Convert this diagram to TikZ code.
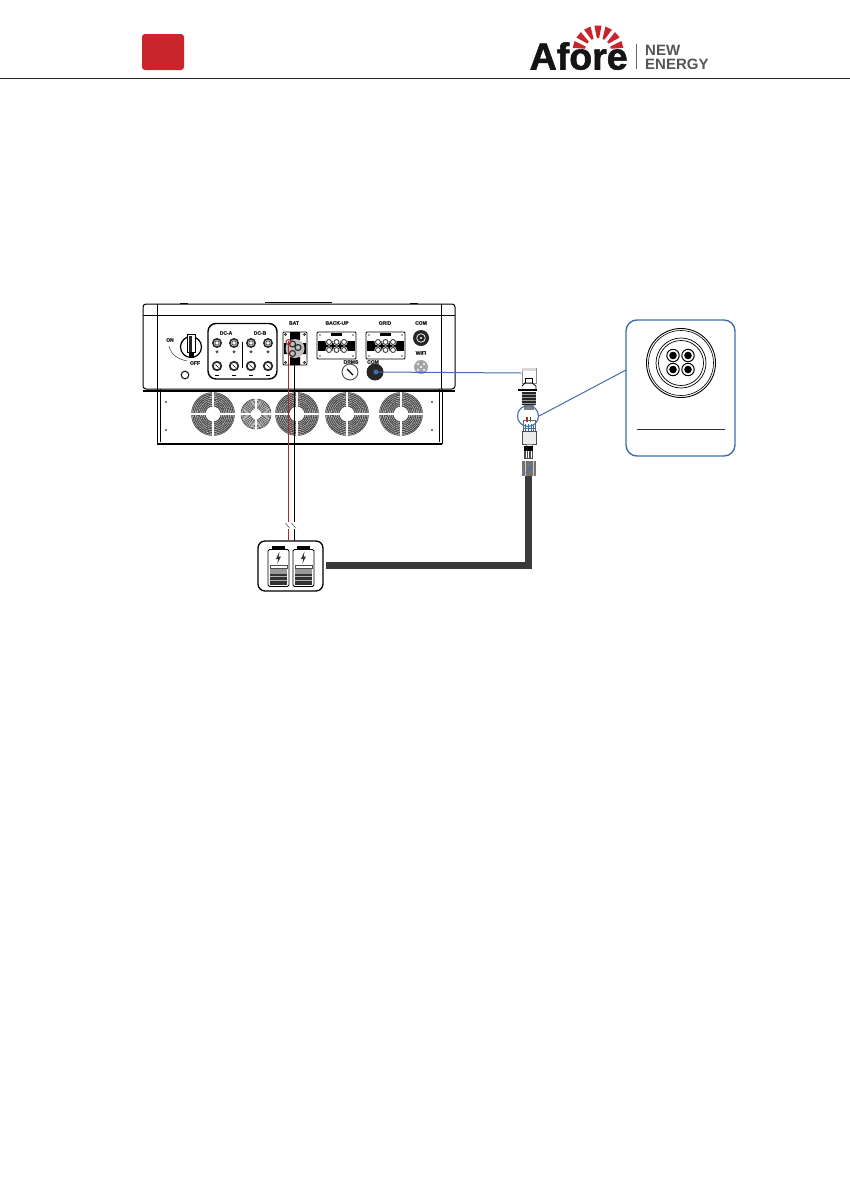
\documentclass[tikz,border=0pt]{standalone}
\usepackage{fontspec}
\setmainfont[BoldFeatures={FakeBold=1.6}]{Liberation Sans}
\newfontfamily\plainbold{Liberation Sans}
\definecolor{afred}{HTML}{C9252C}
\definecolor{afblue}{HTML}{3F70AE}
\definecolor{afgray}{HTML}{555555}
\definecolor{wirered}{HTML}{B5232F}
\definecolor{cabledark}{HTML}{3A3A3A}
\newcommand{\afan}[4]{%
  \foreach \k in {0.38,0.46,0.54,0.62,0.70,0.78,0.86,0.94}{
    \draw[line width=#4,black!72,dash pattern=on 1.1pt off 0.4pt] (#1,#2) circle ({#3*\k});
  }
  \draw[black!72,line width=0.7pt] (#1,#2) circle (#3);
  \draw[white,line width=1.2pt] (#1-#3-1,#2) -- (#1+#3+1,#2) (#1,#2-#3-1) -- (#1,#2+#3+1);
  \fill[white] (#1,#2) circle ({#3*0.33});
}
\newcommand{\agland}[3]{%
  \fill[#3] (#1,#2) circle (5);
  \fill[white] (#1,#2) circle (3.2);
  \draw[line width=0.8pt,black!70] (#1,#2) circle (2.2);
}
\newcommand{\alow}[2]{%
  \fill[black!85] (#1,#2) circle (5.2);
  \fill[white] (#1,#2) circle (3.2);
  \draw[line width=0.7pt] (#1-1.5,#2-1.5) -- (#1+1.5,#2+1.5);
}
\newcommand{\aplug}[2]{% left x, top y
  \draw[line width=0.9pt,rounded corners=1pt] (#1,#2) rectangle (#1+39,#2+27);
  \fill[black] (#1+1,#2+9) rectangle (#1+38,#2+19);
  \fill[black] (#1+14,#2+1) rectangle (#1+25,#2+4);
  \foreach \dx/\dy in {12/10,19.5/10,27/10,12/18,19.5/18,27/18}{
    \fill[white] (#1+\dx,#2+\dy) circle (3.6);
    \draw[line width=0.9pt,black!75] (#1+\dx,#2+\dy) circle (2.5);
  }
  \foreach \dx/\dy in {3/3,36/3,3/24,36/24}{\fill[black!70] (#1+\dx,#2+\dy) circle (0.9);}
}
\newcommand{\acell}[2]{% left x, top y
  \fill[black] (#1+3.5,#2-4) rectangle (#1+17,#2);
  \draw[line width=0.8pt,rounded corners=1.5pt] (#1,#2) rectangle (#1+21,#2+37);
  \fill[black!80] (#1+2,#2+24) rectangle (#1+19,#2+35);
  \foreach \yy in {27,30.5}{\draw[white!70!black,line width=0.4pt] (#1+2,#2+\yy) -- (#1+19,#2+\yy);}
  \draw[line width=0.7pt,black!70] (#1+2,#2+15.5) rectangle (#1+19,#2+19);
  \fill[black!40] (#1+2,#2+19.5) rectangle (#1+19,#2+24);
  \fill[black!80] (#1+11.5,#2+2) -- (#1+8,#2+9.5) -- (#1+10.3,#2+9.5) -- (#1+9.2,#2+14.5) -- (#1+13,#2+7) -- (#1+10.7,#2+7) -- cycle;
}
\newcommand{\apin}[2]{%
  \draw[line width=1pt] (#1,#2) circle (6.2);
  \fill[black] (#1,#2) circle (3.8);
}
\tikzset{
  x=1pt,y=-1pt,
  tiny label/.style={font=\bfseries\fontsize{5}{5}\selectfont,inner sep=0pt,text=black!85},
  outline/.style={draw=black,line width=1pt},
  blue link/.style={draw=afblue,line width=1pt},
  wire/.style={line width=1pt},
}
\begin{document}
\begin{tikzpicture}
\useasboundingbox[fill=white] (0,0) rectangle (850,1191);

% header
\fill[afred,rounded corners=3pt] (142,34) rectangle (184,70);
\draw[black!85,line width=0.9pt] (0,78) -- (850,78);
\foreach \a in {15,40,65,90,115,140,165}{
  \fill[afred] ({598+13*cos(\a-5)},{51-13*sin(\a-5)}) -- ({598+25.5*cos(\a-8)},{51-25.5*sin(\a-8)}) -- ({598+25.5*cos(\a+8)},{51-25.5*sin(\a+8)}) -- ({598+13*cos(\a+5)},{51-13*sin(\a+5)}) -- cycle;
}
\node[anchor=base west,inner sep=0pt,font=\bfseries\fontsize{37.5}{38}\selectfont,text=black!92] (afore) at (529.5,69.5) {Afore};
\draw[black!60,line width=0.7pt] (636,44) -- (636,69);
\node[anchor=base west,inner sep=0pt,font=\plainbold\bfseries\fontsize{15}{15}\selectfont,text=afgray] (neww) at (645,55.5) {NEW};
\node[anchor=base west,inner sep=0pt,font=\plainbold\bfseries\fontsize{15}{15}\selectfont,text=afgray] (energy) at (645,69) {ENERGY};

% inverter lower part
\draw[outline] (157,389) -- (157,444) (442,389) -- (442,444);
\draw[black,line width=0.6pt] (160,389) -- (160,442) (439,389) -- (439,442);
\draw[black,line width=1.5pt] (157,444) -- (442,444);
\afan{213}{414}{21.5}{1.35pt}
\afan{256}{414}{15}{0.65pt}
\afan{297}{414}{21.5}{1.35pt}
\afan{347}{414}{21.5}{1.35pt}
\afan{401}{414}{21.5}{1.35pt}
\foreach \sx/\sy in {166/402,166/430,432/402,432/430}{\fill[black!70] (\sx,\sy) circle (1.1);}

% inverter upper part
\draw[outline,rounded corners=3pt] (143,304) -- (143,389) -- (455,389) -- (455,304) -- cycle;
\draw[black,line width=0.8pt] (143,315) -- (455,315);
\draw[black,line width=0.8pt] (157,304) -- (157,389) (441,304) -- (441,389);
\draw[black,line width=1.2pt] (143,391) -- (455,391);
\draw[black,line width=1.5pt] (265,302.5) -- (332,302.5);
\draw[black,line width=1.5pt] (180,303.5) -- (188,303.5) (410,303.5) -- (418,303.5);

% switch
\draw[line width=1.2pt] (191,347) circle (10.5);
\draw[line width=0.8pt,fill=white] (187,334) rectangle (195,352);
\fill[black!85] (189,336) rectangle (192,352);
\fill[black] (188.5,352) rectangle (193.5,358);
\node[tiny label] (onlbl) at (170,340) {ON};
\node[tiny label] (offlbl) at (195,363) {OFF};
\draw[line width=0.5pt,black!80] (169,346) .. controls (171,355) and (178,359) .. (187,361);
\draw[line width=1pt] (185,375) circle (3.8);

% DC box
\draw[line width=1.4pt,rounded corners=8pt] (208,323.5) rectangle (277,379);
\node[tiny label] (dca) at (226,333) {DC-A};
\node[tiny label] (dcb) at (260,333) {DC-B};
\foreach \gx in {217,234,251,268}{
  \agland{\gx}{343}{black!85}
  \alow{\gx}{366}
  \node[tiny label] at (\gx,352) {+};
  \draw[line width=0.7pt] (\gx-2,375.5) -- (\gx+2,375.5);
}
\draw[line width=0.7pt] (242,342) -- (242,368);

% BAT
\node[tiny label] (batlbl) at (294,323) {BAT};
\node[draw,line width=0.9pt,minimum width=24pt,minimum height=33pt,inner sep=0pt,rounded corners=1pt] (batport) at (295,348.5) {};
\fill[black] (290,332) rectangle (300,340) (290,357) rectangle (300,365) (284,343) rectangle (306,354);
\fill[black!25] (295,348.5) circle (9.5);
\foreach \dx/\dy in {-2.5/-4.5,3/-1,-2.5/5}{\draw[line width=1.1pt,black!85] (295+\dx,348.5+\dy) circle (3);}
\foreach \sx/\sy in {285.5/334.5,304.5/334.5,285.5/362.5,304.5/362.5}{\draw[line width=0.4pt] (\sx,\sy) circle (1);}

% BACK-UP / GRID
\node[tiny label] (backlbl) at (337,323) {BACK-UP};
\aplug{317}{332}
\node[tiny label] (gridlbl) at (385,323) {GRID};
\aplug{366}{332}

% COM / WIFI / others
\node[tiny label] (comlbl) at (421,323) {COM};
\fill[black!85] (421,338) circle (8);
\draw[white,line width=0.7pt] (421,338) circle (4.3);
\fill[white] (421,338) circle (1.2);
\node[tiny label] (wifilbl) at (421,353) {WIFI};
\fill[black!35] (421,367) circle (7);
\foreach \dx/\dy in {-3/-3,3/-3,-3/3,3/3,0/0}{\fill[white] (421+\dx,367+\dy) circle (1.2);}
\node[tiny label] (drmslbl) at (351,362) {DRMS};
\draw[line width=0.9pt,black!70] (350,372) circle (8);
\draw[line width=1.4pt] (347,369) -- (353,375);
\node[tiny label] (com2lbl) at (373,362) {COM};
\node[fill=black!85,circle,minimum size=17pt,inner sep=0pt] (comport) at (375,372) {};
\fill[afblue] (376,372) circle (2.5);

% connector
\coordinate (plugin) at (521,373);
\draw[blue link] (comport.center) -- (plugin);
\draw[line width=0.4pt,black!45] (522,368) rectangle (536,383);
\fill[black!15] (522,368) rectangle (536,371);
\draw[line width=0.8pt] (525,383) -- (525,378) -- (532,378) -- (532,383);
\fill[black] (518,388.5) rectangle (537,390.5);
\draw[line width=0.8pt] (522,386) -- (525,383) -- (532,383) -- (536,386) -- (536,389);
\fill[black!85] (522,392) rectangle (536,405);
\foreach \yy in {394,397,400,403}{\draw[white!60!black,line width=0.4pt] (522,\yy) -- (536,\yy);}
\fill[black!50] (524,405) rectangle (534,410);
\fill[wirered] (526,417) rectangle (527.5,422);
\fill[green!45!black] (529.5,417) rectangle (531,422);
\draw[black!60,line width=0.5pt] (523,420) rectangle (535,431);
\foreach \xx in {525,528,531,533.5}{\draw[afblue,line width=0.9pt] (\xx,424) -- (\xx,431);}
\draw[afblue,line width=0.9pt] (523,428) -- (535,428);
\draw[line width=0.5pt,black!70,fill=black!8] (522,431) rectangle (536,444);
\draw[black!50,line width=0.5pt] (526,444) rectangle (532,449);
\fill[black] (524,446) rectangle (533,451);
\fill[black!70] (524,451) rectangle (533,459);
\foreach \xx in {526,528.5,531}{\draw[white,line width=0.5pt] (\xx,451) -- (\xx,458);}
\fill[black!55] (522,461) rectangle (536,476);
\draw[black!20,line width=0.6pt] (525,461) -- (525,476) (533,461) -- (533,476);
\draw[afblue,line width=1.2pt] (526,473) -- (532,466);
\node[circle,draw=afblue,line width=1.1pt,minimum size=21pt,inner sep=0pt] (zoomcirc) at (528,416) {};

% battery pack
\node[draw,line width=1.3pt,rounded corners=7pt,minimum width=65pt,minimum height=50pt,inner sep=0pt,outer sep=0pt] (pack) at (290.5,566) {};
\acell{268}{549.5}
\acell{293}{549.5}

% cable
\coordinate (cabletop) at (528,476);
\coordinate (cablecorner) at (528,565.5);
\draw[cabledark,line width=7pt,line join=miter] (cabletop) -- (cablecorner) -- (326,565.5);

% DC wires
\coordinate (redtop) at (288.5,341);
\coordinate (blacktop) at (294.5,364);
\coordinate (redbreaka) at (288.5,522);
\coordinate (redbreakb) at (288.5,529);
\coordinate (blackbreaka) at (294.5,522);
\coordinate (blackbreakb) at (294.5,529);
\draw[wirered,wire] (redtop) -- (redbreaka);
\draw[wirered,wire] (redbreakb) -- (redbreakb |- pack.north);
\draw[black,wire] (blacktop) -- (blackbreaka);
\draw[black,wire] (blackbreakb) -- (blackbreakb |- pack.north);
\draw[black!70,line width=0.5pt] (285.5,523) -- (289.5,528) (291.5,523) -- (295.5,528);
\draw[wirered,line width=1pt] (288.5,342) circle (2.5);

% callout
\node[draw=afblue,line width=1.4pt,rounded corners=11pt,minimum width=109pt,minimum height=136pt,inner sep=0pt,outer sep=0pt] (callout) at (680.5,388) {};
\draw[black!80,line width=0.8pt] (637,429) -- (725,429);
\draw[line width=0.9pt] (681,363) circle (34.5);
\draw[line width=0.6pt] (681,363) circle (32.5);
\draw[line width=0.7pt] (681,363) circle (25);
\draw[line width=0.7pt] (681,363) circle (22.5);
\apin{673}{355.5}
\apin{688}{355.5}
\apin{673}{369.5}
\apin{688}{369.5}
\coordinate (leaderend) at (626,370);
\draw[blue link] (zoomcirc.east) -- (leaderend);
\end{tikzpicture}
\end{document}
